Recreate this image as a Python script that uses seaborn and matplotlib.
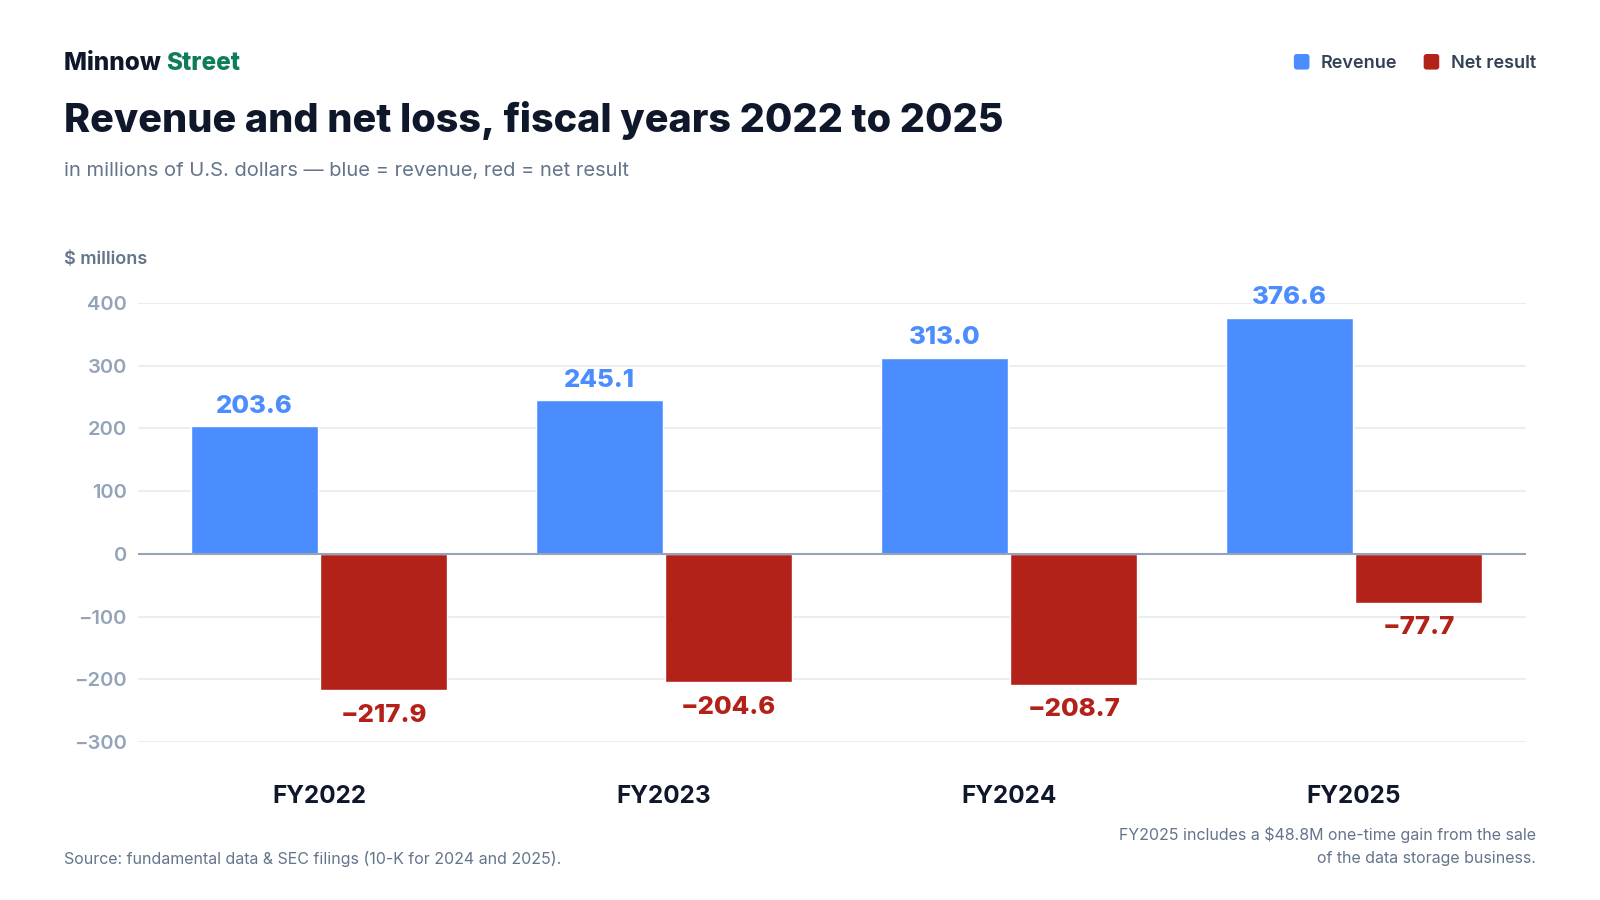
import matplotlib
matplotlib.use("Agg")
import matplotlib.pyplot as plt
import seaborn as sns
import pandas as pd
from matplotlib.patches import FancyBboxPatch
from matplotlib.legend_handler import HandlerPatch

# data
fiscal_years = ["FY2022", "FY2023", "FY2024", "FY2025"]
revenue = [203.6, 245.1, 313.0, 376.6]
net_result = [-217.9, -204.6, -208.7, -77.7]
y_ticks = [-300, -200, -100, 0, 100, 200, 300, 400]
series_names = ["Revenue", "Net result"]

BLUE = "#4B8DFF"
RED = "#B22219"
DARK = "#0F172A"
SLATE = "#64748B"
LIGHT = "#94A3B8"


def fmt(v, decimals=1):
    s = f"{abs(v):.{decimals}f}"
    return ("\u2212" + s) if v < 0 else s


class RoundSquare(HandlerPatch):
    def create_artists(self, legend, orig_handle, xdescent, ydescent,
                       width, height, fontsize, trans):
        side = min(width, height)
        p = FancyBboxPatch((-xdescent, -ydescent), side, side,
                           boxstyle="round,pad=0,rounding_size=%f" % (side * 0.18),
                           facecolor=orig_handle.get_facecolor(),
                           edgecolor="none", transform=trans)
        return [p]


def main():
    sns.set_theme(style="white")
    plt.rcParams["font.family"] = ["Inter", "DejaVu Sans"]

    df = pd.DataFrame({
        "year": fiscal_years * 2,
        "value": revenue + net_result,
        "series": [series_names[0]] * 4 + [series_names[1]] * 4,
    })

    fig = plt.figure(figsize=(16, 9), dpi=100)
    ax = fig.add_axes([0.08625, 0.1756, 0.8675, 0.4877])

    sns.barplot(
        data=df, x="year", y="value", hue="series",
        palette=[BLUE, RED], width=0.75, gap=0.02,
        saturation=1, ax=ax, legend=True,
    )

    ax.set_xlim(-0.5246, 3.4986)
    ax.set_ylim(-300, 400)
    ax.set_yticks(y_ticks)
    ax.set_yticklabels([fmt(t, 0) for t in y_ticks])
    ax.grid(axis="y", color="#E8EBEF", linewidth=1.2)
    ax.set_axisbelow(True)
    ax.axhline(0, color="#94A3B8", linewidth=1.5, zorder=3)
    for sp in ax.spines.values():
        sp.set_visible(False)
    ax.set_xlabel("")
    ax.set_ylabel("")
    ax.tick_params(axis="y", length=0, pad=8, labelsize=14.5, labelcolor=LIGHT)
    ax.tick_params(axis="x", length=0, pad=31, labelsize=17.5, labelcolor=DARK)
    for lab in ax.get_yticklabels():
        lab.set_fontweight("semibold")
    for lab in ax.get_xticklabels():
        lab.set_fontweight("bold")

    # value labels
    for cont, color in zip(ax.containers, [BLUE, RED]):
        for p in cont.patches:
            h = p.get_height()
            x = p.get_x() + p.get_width() / 2
            top = max(p.get_y(), p.get_y() + h)
            bot = min(p.get_y(), p.get_y() + h)
            if h >= 0:
                ax.annotate(fmt(h), (x, top), xytext=(0, 14.5), textcoords="offset points",
                            ha="center", va="center", fontsize=18.5, fontweight="heavy",
                            color=color, clip_on=False)
            else:
                ax.annotate(fmt(h), (x, bot), xytext=(0, -18), textcoords="offset points",
                            ha="center", va="center", fontsize=18.5, fontweight="heavy",
                            color=color, clip_on=False)

    sns.move_legend(
        ax, "center right", bbox_to_anchor=(1536 / 1600, 1 - 63 / 900),
        bbox_transform=fig.transFigure, ncol=2, frameon=False, title=None,
        fontsize=13, handlelength=0.95, handleheight=0.95,
        handletextpad=0.55, columnspacing=1.45, borderaxespad=0, borderpad=0,
        handler_map={plt.Rectangle: RoundSquare()},
    )
    for t in ax.get_legend().get_texts():
        t.set_color("#334155")
        t.set_fontweight("semibold")

    # header texts
    brand = fig.text(64 / 1600, 1 - 64 / 900, "Minnow ", fontsize=17.5,
                     fontweight="heavy", color=DARK, va="center", ha="left")
    fig.canvas.draw()
    bb = brand.get_window_extent()
    fig.text(bb.x1 / fig.bbox.width, 1 - 64 / 900, "Street", fontsize=17.5,
             fontweight="heavy", color="#0E7C5A", va="center", ha="left")
    fig.text(64 / 1600, 1 - 121 / 900, "Revenue and net loss, fiscal years 2022 to 2025",
             fontsize=28.5, fontweight="heavy", color=DARK, va="center", ha="left")
    fig.text(64 / 1600, 1 - 171 / 900,
             "in millions of U.S. dollars \u2014 blue = revenue, red = net result",
             fontsize=14.5, color=SLATE, va="center", ha="left")
    fig.text(64 / 1600, 1 - 259 / 900, "$ millions", fontsize=13,
             fontweight="semibold", color=SLATE, va="center", ha="left")

    fig.text(64 / 1600, 1 - 859 / 900,
             "Source: fundamental data & SEC filings (10-K for 2024 and 2025).",
             fontsize=11.5, color=SLATE, va="center", ha="left")
    fig.text(1536 / 1600, 1 - 835 / 900,
             "FY2025 includes a $48.8M one-time gain from the sale",
             fontsize=11.5, color=SLATE, va="center", ha="right")
    fig.text(1536 / 1600, 1 - 859 / 900, "of the data storage business.",
             fontsize=11.5, color=SLATE, va="center", ha="right")

    fig.savefig("out.png", dpi=100, facecolor="white")


if __name__ == "__main__":
    main()
